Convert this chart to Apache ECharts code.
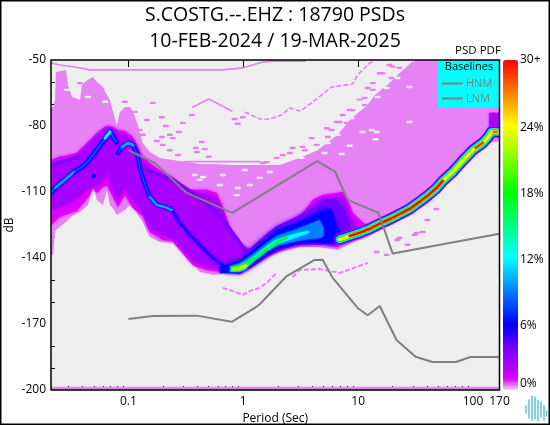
<!DOCTYPE html>
<html><head><meta charset="utf-8">
<script src="https://cdn.jsdelivr.net/npm/echarts@6/dist/echarts.min.js"></script>
<style>html,body{margin:0;padding:0;background:#fff}#c{width:550px;height:425px}</style>
</head><body><div id="c"></div>
<script>
const titleLines = ['S.COSTG.--.EHZ : 18790 PSDs', '10-FEB-2024 / 19-MAR-2025'];
const periodLabels = [0.1, 1, 10, 100, 170];
const periodMajorTicks = [0.1, 1, 10, 100];
const periodMinorTicks = [0.03,0.04,0.05,0.06,0.07,0.08,0.09,0.2,0.3,0.4,0.5,0.6,0.7,0.8,0.9,2,3,4,5,6,7,8,9,20,30,40,50,60,70,80,90];
const dbLabels = [-200,-170,-140,-110,-80,-50];
const dbTicks = [-190,-180,-160,-150,-130,-120,-100,-90,-70,-60];
const pdfScaleLabels = {0:'{low|0%}',6:'{mid|6%}',12:'{mid|12%}',18:'{mid|18%}',24:'{mid|24%}',30:'30+'};
// colour per whole PDF percent, 0..30
const pdfColors = ['#ecd8f0','#dd00ff','#b900ff','#9400ff','#6f00ff','#2c00ff','#0000ff','#002bff','#0055ff','#0080ff','#00aaff','#00d5ff','#00ffff','#00ffd5','#00ffaa','#00ff80','#00ff55','#00ff2b','#00ff00','#2bff00','#55ff00','#80ff00','#aaff00','#d5ff00','#ffff00','#ffd500','#ffaa00','#ff8000','#ff5500','#ff2b00','#ff0000'];

// New High / Low Noise Model baselines: [period s, dB]
const hnm = [[0.1,-91],[0.17,-96.8],[0.32,-110.3],[0.8,-119.5],[4.4,-96],[6.3,-100.8],[8.1,-113.6],[15,-119.4],[20,-138],[170,-129]];
const lnm = [[0.1,-167.7],[0.163,-166.4],[0.394,-166.2],[0.794,-169],[1.26,-162.7],[1.39,-161],[2.39,-148.2],[4.18,-140.9],[4.91,-140.8],[6,-149],[9.9,-162.7],[12.1,-166],[15.4,-161.8],[21.6,-177.3],[31.6,-184.9],[44.4,-187.3],[71,-187.3],[95,-185],[170,-185]];

// PDF contour bands: [period s, upper dB, lower dB]
const stripBottom = [[0.0212,-198.5,-200],[170,-198.5,-200]];
const bandFaint = [[.0212,-71.5,-138.5],[.0221,-71.5,-138.5],[.023,-68.2,-128.2],[.0234,-55.5,-127.3],[.0286,-54.5,-123.6],[.0298,-61.4,-122.7],[.0323,-66.8,-121],[.0379,-68.2,-119],[.0394,-61.4,-118.2],[.0445,-59,-116],[.0491,-57.7,-106.8],[.0532,-60,-113.6],[.06,-62.3,-116],[.065,-66,-109],[.069,-68.2,-116],[.0719,-71.8,-116.8],[.0794,-79.5,-120.5],[.0844,-73.6,-119.5],[.0932,-71.4,-118.2],[.103,-71.4,-116],[.1095,-73.6,-116.8],[.121,-79.5,-120.5],[.1335,-87.7,-123.6],[.1537,-91.8,-130.5],[.1877,-94.5,-132.7],[.2433,-95.5,-133.2],[.3222,-96.4,-140],[.4185,-97.3,-146.4],[.5427,-97.3,-147.7],[.81,-97.7,-146.8],[.9325,-97.7,-147.7],[1.21,-97.7,-144],[1.6,-97.7,-140],[2.08,-97.7,-137.3],[3.1,-94.5,-135],[4.44,-91,-135],[6.63,-84,-136.4],[8.79,-76.4,-133.2],[12.1,-70.5,-130.5],[13.9,-66,-128.6],[18,-61.4,-126],[22,-56.8,-123.6],[29.2,-51,-120.5],[33,-50,-118.2],[41.9,-50,-114.5],[62.5,-50,-105],[93,-50,-95.5],[139,-50,-87.3],[170,-50,-87.3]];
const bandMagenta = [[.0212,-95.5,-125],[.0252,-94,-121.4],[.0278,-93.6,-120.5],[.0355,-92.3,-118.6],[.0463,-86.4,-111.4],[.0491,-85,-108.2],[.0532,-83.2,-110.5],[.06,-81,-107.7],[.065,-80,-106.8],[.0735,-80.5,-112.3],[.081,-81.8,-116.8],[.0932,-82.3,-111.4],[.1095,-85,-117.3],[.1335,-94,-120.9],[.1537,-96.8,-128.2],[.199,-101,-131.8],[.2433,-103.2,-132.3],[.3222,-109,-140],[.364,-109,-143.2],[.4815,-109,-145.5],[.5875,-110.5,-146],[.663,-116.8,-146],[.7634,-125.9,-146],[.9325,-133.2,-146.8],[1.14,-135.9,-144.5],[1.31,-135.9,-142.3],[1.7,-128.6,-138.6],[2.39,-124,-135.5],[3.29,-119.5,-134],[4.02,-113.6,-134],[4.91,-111.4,-134],[6.5,-110.5,-135],[7.33,-110,-133.6],[8.1,-113.6,-132.7],[9,-119.5,-131.8],[11,-124,-130.5],[13.1,-126,-128.2]];
const bandPurple = [[.0212,-97.7,-118.2],[.0278,-96,-116],[.0355,-93.6,-112.7],[.0463,-87.7,-108.2],[.0532,-84.5,-106.8],[.0624,-81.3,-103.6],[.0666,-80.5,-101],[.0735,-81,-109],[.081,-83.6,-113.6],[.0932,-84,-108.2],[.1095,-86.4,-113.6],[.1335,-96.4,-119.5],[.1537,-99,-126.4],[.199,-102.7,-130],[.2433,-105,-130.9],[.3222,-110,-137.7],[.364,-110.5,-141.4],[.4815,-110.9,-143.6],[.5875,-112.7,-144.5],[.663,-118.2,-145],[.7634,-127.3,-145.5],[.9325,-135,-146],[1.14,-137.7,-143.6],[1.31,-137.7,-141.4],[1.7,-130.9,-137.7],[2.39,-126.4,-134.5],[3.29,-121.8,-133.2],[4.02,-116,-133.2],[4.91,-112.7,-133.2],[6.5,-112.3,-134],[7.6,-112.7,-132.7],[8.44,-120.5,-131.8],[9.9,-126.4,-130],[11.5,-127.7,-129]];
const bandCorner = [[139,-74,-85],[170,-74,-85]];
const bandFanViolet = [[.7186,-141.8,-146.8],[.9325,-140,-147.3],[1.21,-134.5,-144],[1.6,-129,-139.5],[1.95,-125.5,-136.8],[2.92,-121.4,-134],[4.02,-117.3,-133.6],[5.33,-113.6,-133.6],[6.5,-113.6,-134],[7.6,-118.2,-132.7],[8.44,-125,-131.8],[9,-128,-131]];
const bandFanBlue = [[.625,-144,-146.8],[.9325,-141.4,-146.8],[1.21,-136.4,-143.2],[1.6,-131,-138.6],[1.95,-127.3,-136],[2.92,-124,-133.4],[4.02,-120.5,-133],[5.33,-117.3,-133.2],[6,-119,-133.6],[6.5,-125,-132.3],[7.2,-130,-131.8]];
const bandFanAzure = [[.7634,-143.6,-146.4],[.9325,-142.3,-146.4],[1.21,-138.2,-142.3],[1.6,-133.2,-137.3],[1.95,-130,-134.5],[2.92,-126.8,-132.3],[3.79,-124.5,-131.4],[4.62,-122.7,-130.9],[5,-126.4,-130]];
const bandFanCyan = [[.86,-144,-146],[1.03,-142.3,-145.5],[1.21,-139.5,-141.4],[1.6,-134.5,-136.6],[1.95,-131.6,-133.8],[2.92,-128.8,-130.4],[3.7,-127.6,-128.6]];
const bandFanGreen = [[.778,-144,-146.4],[.9325,-143.2,-146],[1.21,-140,-141.4],[1.6,-135.5,-136.6],[2.08,-131.4,-132.7],[2.44,-130,-130.9]];
const bandFanYellow = [[.81,-144.5,-145.7],[.9325,-143.9,-145.5],[1.07,-142.7,-144]];

// PDF ridges: [period s, dB]
const ridgeShortA = [[.0212,-110.5],[.023,-108.2],[.0272,-105],[.0333,-101],[.0418,-97.7],[.0491,-93.2],[.059,-87.7],[.069,-82.7],[.0747,-85.5],[.0778,-87.3]];
const ridgeShortB = [[.081,-92.3],[.0878,-89.5],[.099,-87.7],[.1095,-88.6],[.1185,-92.3],[.1256,-99],[.1395,-106.8],[.1537,-112.3],[.1766,-115.9],[.2074,-116.8],[.239,-118.2]];
const ridgeTail = [[.239,-118.2],[.2805,-124],[.343,-129.5],[.4355,-135],[.5427,-140],[.7186,-144.5],[.9325,-144.5]];
const coreLeft = [[.023,-108.2],[.0272,-105],[.0333,-101]];
const corePeak = [[.0627,-85.5],[.069,-82.7]];
const coreKnee = [[.0878,-89.5],[.099,-87.7],[.1095,-88.6]];
const coreSlope = [[.1537,-112.3],[.1766,-115.9],[.2074,-116.8],[.239,-118.2]];
const stripeLeft = [[.0212,-97.7],[.03,-95.5],[.036,-94]];
const stripeMid = [[.1447,-100],[.2433,-104.5],[.4443,-113.6],[.663,-122.7],[.9325,-133.2],[1.14,-139.5]];
const spotLow = [[.0491,-102.7],[.05,-102.7]];
const ridgeLong = [[6.9,-131.5],[8.44,-130],[10.3,-128.5],[12.6,-126.7],[15.3,-124.5],[18.7,-122.4],[22.9,-120.1],[28,-117.7],[34.3,-114.4],[41.9,-110.9],[47.9,-108.3],[54.7,-104.9],[66.6,-100.8],[81.3,-95.8],[99.8,-90.9],[122,-87.6],[135,-85.1],[145,-82.6],[170,-82.6]];
const ridgeRed = [[8.44,-130],[10.3,-128.5],[12.6,-126.7],[15.3,-124.5],[18.7,-122.4],[22.9,-120.1],[28,-117.7],[34.3,-114.4],[41.9,-110.9],[47.9,-108.3],[54.7,-104.9]];
const ridgeBlobA = [[105,-90],[122,-87.6]];
const ridgeBlobB = [[150,-82.6],[160,-82.6]];

// lone one-bin occurrences: [period s, dB]
const faintCells = [[.0379,-60.5],[.0932,-69],[.1138,-73.6],[.1634,-69.5],[.1447,-77.3],[.1956,-76],[.1256,-81.8],[.1335,-84],[.2117,-80],[.2748,-82.7],[.2295,-84],[.2433,-85.5],[.1956,-85],[.1766,-86.8],[.199,-88.6],[.3562,-75],[.2977,-78.6],[.4355,-87.3],[.4625,-90.5],[.3859,-90],[.2295,-91],[.2695,-93.2],[.394,-91.8],[.896,-79],[.8436,-76.8],[.99,-76],[.5012,-94],[2.69,-90],[2.2,-93.2],[1.6,-96.4],[1.48,-96.8],[1.95,-94.5],[2.54,-92.3],[3.29,-89.5],[3.94,-85.5],[5.33,-81],[6.9,-78.2],[8.44,-72.7],[10.3,-68.2],[13.4,-60.5],[16.3,-56],[20,-53],[5.44,-85],[7.33,-75],[8.97,-72.7],[11.4,-70.5],[12.1,-62.7],[17,-63.6],[15.4,-56],[18.7,-52.3],[22.9,-53.6],[19.5,-58.2],[6.5,-78.2],[7.95,-78.6],[5.87,-81.8],[4.36,-88.6],[3.43,-91],[11.4,-67.3],[13.4,-63.6],[14.5,-137.3],[17.7,-138.6],[22.9,-130.9],[26.9,-134],[36.5,-128.2],[31,-129.5],[48,-117.7],[40,-122.7],[21.9,-131.8],[32.2,-128.6]];
const emptyCells = [[.378,-102.3],[.4443,-103.2],[.663,-102.3],[.896,-108.2],[.878,-111.4],[.625,-106.8],[.4185,-104.5],[1.03,-100],[1.39,-103.6],[1.14,-106.8],[1.7,-100.9],[10.9,-82.7],[13.1,-81.8],[14.5,-82.7],[14.2,-86],[28,-62.3],[28,-78.2],[8.44,-89],[7.19,-92.7],[4.81,-85.5],[9.32,-71.8],[14.8,-66.8],[17.7,-62.7],[22,-58.2],[10.3,-69],[8.79,-76.4],[6.63,-84],[5.44,-87.7],[5.11,-92.3],[3.22,-94.5],[.029,-63.6],[.0445,-66.8],[.0627,-69]];
const traceTop = [[.0215,-51.4],[.0252,-52.3],[.0341,-53.2],[.0463,-54.5],[.663,-54.5],[.99,-53.6],[1.45,-51],[1.8,-50.5],[3.43,-50.5]];
const traceVee = [[.3636,-71.4],[.5012,-67.7],[.794,-73.2]];
const traceRise = [[1.03,-73.6],[1.39,-76.8],[1.7,-76.8],[2.16,-75],[2.54,-71.8],[3.1,-73.2],[3.43,-71.8],[4.44,-67.3],[5.87,-62.3],[8.97,-60.9],[9.9,-56.8],[12.6,-51.4],[13.9,-50.5]];
const traceEdge = [[.31,-96.2],[1.39,-96.2]];
const traceDeepA = [[.663,-153.6],[.81,-155],[.99,-156.8],[1.14,-155],[1.39,-153.6],[1.63,-150.9],[1.95,-146.8]];
const traceDeepB = [[2.69,-148.6],[3.1,-145.5],[4.62,-145],[6.9,-146.8],[9.7,-144],[12.1,-142.3]];

// paint order: bands as [pct, points, 0, blur], strokes as [pct, points, lineWidth, dashed]
const faintPct = 0.4;
const layers = [
  [faintPct, stripBottom], [faintPct, bandFaint],
  [faintPct, traceTop, 1.6], [faintPct, traceVee, 1.6], [faintPct, traceRise, 1.6, true], [faintPct, traceEdge, 1.6], [faintPct, traceDeepA, 2, true], [faintPct, traceDeepB, 2, true],
  [1, bandMagenta, 0, 3], [2.5, bandPurple, 0, 3], [2.2, bandCorner, 0, 2],
  [3.5, stripeLeft, 4], [3.5, stripeMid, 4],
  [4, ridgeShortA, 7], [4, ridgeShortB, 6], [3.5, ridgeTail, 6], [6, ridgeShortA, 4], [6, ridgeShortB, 3.5], [5.5, ridgeTail, 2.5],
  [8, ridgeShortA, 2], [8, ridgeShortB, 1.5], [6, spotLow, 4],
  [10, coreLeft, 2.5], [12, corePeak, 3], [10, coreKnee, 3], [10, coreSlope, 2.5],
  [4, bandFanViolet, 0, 4], [6, bandFanBlue, 0, 3], [9, bandFanAzure, 0, 2], [12, bandFanCyan, 0, 2], [17, bandFanGreen, 0, 1.5], [23, bandFanYellow, 0, 1],
  [1, ridgeLong, 11.5], [3, ridgeLong, 10.5], [6, ridgeLong, 9.5], [9, ridgeLong, 8.5], [12, ridgeLong, 7], [15, ridgeLong, 6], [18, ridgeLong, 5], [24, ridgeLong, 3.5],
  [28, ridgeRed, 3], [30, ridgeRed, 2], [29, ridgeBlobA, 2.5], [28, ridgeBlobB, 2.5]
];

function drawLayer(params, api) {
  const layer = layers[api.value(1)];
  const color = api.visual('color');
  if (layer[2]) {
    const style = { stroke:color, fill:null, lineWidth:layer[2], lineCap:'round', lineJoin:'round' };
    if (layer[3]) { style.lineDash = [5,2]; style.lineCap = 'butt'; }
    return { type:'polyline', shape:{ points: layer[1].map(p => api.coord(p)) }, style };
  }
  const upper = layer[1].map(p => api.coord([p[0], p[1]]));
  const lower = layer[1].slice().reverse().map(p => api.coord([p[0], p[2]]));
  const style = { fill:color };
  if (layer[3]) { style.shadowBlur = layer[3]; style.shadowColor = color; }
  return { type:'polygon', shape:{ points: upper.concat(lower) }, style };
}
function drawCell(params, api) {
  const c = api.coord([api.value(0), api.value(1)]);
  return { type:'rect', shape:{ x:c[0]-3, y:c[1]-1.2, width:6, height:2.4, r:1 }, style:{ fill:api.value(2) ? '#eeeeee' : '#e680f1' } };
}

const font = '"Open Sans", "Noto Sans", sans-serif';
const chart = echarts.init(document.getElementById('c'), null, { renderer:'canvas' });
const logAxisBase = { type:'log', logBase:10, min:0.0212, max:170, gridIndex:0, splitLine:{show:false} };
chart.setOption({
  animation:false,
  backgroundColor:'#ffffff',
  textStyle:{ fontFamily:font },
  title:[
    { text:titleLines[0], left:'center', top:5, padding:0, textStyle:{ fontSize:19.5, fontWeight:'normal', color:'#000', fontFamily:font } },
    { text:titleLines[1], left:'center', top:31, padding:0, textStyle:{ fontSize:19.5, fontWeight:'normal', color:'#000', fontFamily:font } }
  ],
  grid:[
    { left:51, top:60, width:448.5, height:330, show:true, backgroundColor:'#eeeeee', borderWidth:0, outerBoundsMode:'none' },
    { left:503, top:60, width:15, height:330, show:false, outerBoundsMode:'none' }
  ],
  xAxis:[
    Object.assign({}, logAxisBase, {
      name:'Period (Sec)', nameLocation:'middle', nameGap:22, nameTextStyle:{ fontSize:12, color:'#000' },
      axisLine:{ show:false },
      axisTick:{ show:true, inside:true, length:4, customValues:periodMinorTicks, lineStyle:{ color:'#000' } },
      axisLabel:{ show:true, margin:6, fontSize:12, color:'#000', customValues:periodLabels, formatter:v => String(v), hideOverlap:false, showMinLabel:true, showMaxLabel:true }
    }),
    Object.assign({}, logAxisBase, {
      axisLine:{ show:false },
      axisTick:{ show:true, inside:true, length:7, customValues:periodMajorTicks, lineStyle:{ color:'#000' } },
      axisLabel:{ show:false }
    }),
    { type:'value', gridIndex:1, min:0, max:1, show:false }
  ],
  yAxis:[
    { type:'value', gridIndex:0, min:-200, max:-50,
      splitLine:{show:false}, axisLine:{ show:false },
      axisTick:{ show:true, inside:true, length:4, customValues:dbTicks, lineStyle:{ color:'#000' } },
      axisLabel:{ margin:5, fontSize:12, color:'#000', padding:[3,0,0,0], customValues:dbLabels, showMinLabel:true, showMaxLabel:true } },
    { type:'value', gridIndex:1, min:0, max:30, interval:6, position:'right', splitLine:{show:false}, axisLine:{show:false}, axisTick:{show:false},
      axisLabel:{ margin:2, fontSize:12, color:'#000', formatter:v => pdfScaleLabels[v], alignMinLabel:'bottom', alignMaxLabel:'top',
        rich:{ low:{ fontSize:12, color:'#000', padding:[0,0,12,0] }, mid:{ fontSize:12, color:'#000', padding:[4,0,0,0] } } } }
  ],
  visualMap:{ type:'continuous', seriesIndex:0, dimension:0, min:0, max:30, show:true, left:503, top:60, itemWidth:15, itemHeight:330, padding:0, calculable:false, realtime:false, hoverLink:false, text:null, showLabel:false, inRange:{ color:pdfColors }, textStyle:{ fontSize:0 } },
  legend:{ data:['HNM','LNM'], orient:'vertical', left:442, top:78, padding:0, itemGap:4, itemWidth:21, itemHeight:14, icon:'path://M0,6H21V8H0Z', z:100,
    textStyle:{ color:'#808080', fontSize:11, padding:[0,0,0,-2] }, inactiveColor:'#808080', selectedMode:false,
    itemStyle:{ color:'#808080', borderWidth:0 }, lineStyle:{ width:0 } },
  graphic:[
    { type:'rect', z:55, shape:{ x:438, y:60.5, width:61, height:47 }, style:{ fill:'#00ffff' } },
    { type:'text', z:60, x:469, y:67, style:{ text:'Baselines', align:'center', verticalAlign:'middle', font:'11px '+font, fill:'#000' } },
    { type:'text', z:60, x:478, y:51, style:{ text:'PSD PDF', align:'center', verticalAlign:'middle', font:'11.5px '+font, fill:'#000' } },
    { type:'text', z:60, x:10, y:225, rotation:Math.PI/2, style:{ text:'dB', align:'center', verticalAlign:'middle', font:'12px '+font, fill:'#000' } },
    { type:'rect', z:56, shape:{ x:51, y:60, width:448.5, height:330 }, style:{ fill:null, stroke:'#000', lineWidth:1.5 } },
    { type:'rect', z:70, shape:{ x:0, y:0, width:550, height:425 }, style:{ fill:null, stroke:'#000', lineWidth:3 } },
    { type:'group', z:60, children:[
      {x:526,t:406,b:413},{x:529,t:400,b:418},{x:532,t:396,b:420},{x:535,t:397,b:419},{x:538,t:400,b:421},{x:541,t:402,b:417},{x:544,t:406,b:420},{x:546.5,t:411,b:416}
    ].map(s => ({ type:'line', z:60, shape:{ x1:s.x, y1:s.t, x2:s.x, y2:s.b }, style:{ stroke:'#4fb8d4', lineWidth:1.6, opacity:0.85, lineCap:'round' } })) }
  ],
  series:[
    { name:'PDF', type:'custom', xAxisIndex:0, yAxisIndex:0, clip:true, silent:true, renderItem:drawLayer,
      dimensions:['pct','layer','period','db'], encode:{ x:2, y:3 },
      data:layers.map((l,i) => [l[0], i, l[1][0][0], l[1][0][1]]) },
    { name:'speckle', type:'custom', xAxisIndex:0, yAxisIndex:0, clip:true, silent:true, renderItem:drawCell, encode:{ x:0, y:1 },
      data:faintCells.map(c => [c[0],c[1],0]).concat(emptyCells.map(c => [c[0],c[1],1])) },
    { name:'HNM', type:'line', xAxisIndex:0, yAxisIndex:0, data:hnm, symbol:'none', silent:true, z:5, lineStyle:{ color:'#808080', width:2 }, itemStyle:{ color:'#808080' } },
    { name:'LNM', type:'line', xAxisIndex:0, yAxisIndex:0, data:lnm, symbol:'none', silent:true, z:5, lineStyle:{ color:'#808080', width:2 }, itemStyle:{ color:'#808080' } },
    { type:'line', xAxisIndex:2, yAxisIndex:1, data:[], silent:true }
  ]
});
</script></body></html>
